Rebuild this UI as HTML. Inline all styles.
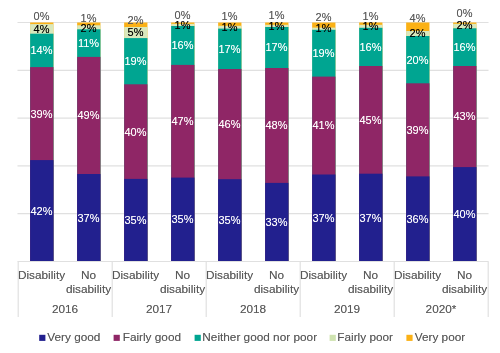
<!DOCTYPE html>
<html><head><meta charset="utf-8"><style>
html,body{margin:0;padding:0;background:#fff;}
body{width:500px;height:353px;position:relative;overflow:hidden;will-change:transform;font-family:"Liberation Sans",sans-serif;}
.ch{position:absolute;left:0;top:0;}
.lab{position:absolute;width:40px;text-align:center;font-size:11.0px;line-height:13.0px;}
.cat{position:absolute;text-shadow:0 0 0.5px rgba(89,89,89,.55);width:70px;text-align:center;font-size:11.8px;line-height:13.8px;color:#595959;}
.sq{position:absolute;top:334.9px;width:5.8px;height:5.8px;}
.lt{position:absolute;text-shadow:0 0 0.5px rgba(89,89,89,.55);font-size:11.8px;line-height:13.8px;color:#595959;white-space:nowrap;}
</style></head><body>
<svg class="ch" width="500" height="353" viewBox="0 0 500 353"><g stroke="#e0e0e0" stroke-width="1.2"><line x1="17.5" x2="488.5" y1="22.50" y2="22.50"/><line x1="17.5" x2="488.5" y1="70.30" y2="70.30"/><line x1="17.5" x2="488.5" y1="118.10" y2="118.10"/><line x1="17.5" x2="488.5" y1="165.90" y2="165.90"/><line x1="17.5" x2="488.5" y1="213.70" y2="213.70"/><line x1="17.5" x2="488.5" y1="261.50" y2="261.50"/><line x1="18.20" x2="18.20" y1="261.50" y2="317"/><line x1="112.20" x2="112.20" y1="261.50" y2="317"/><line x1="206.20" x2="206.20" y1="261.50" y2="317"/><line x1="300.20" x2="300.20" y1="261.50" y2="317"/><line x1="394.20" x2="394.20" y1="261.50" y2="317"/><line x1="488.20" x2="488.20" y1="261.50" y2="317"/></g><rect x="30.15" y="22.50" width="23.3" height="238.50" fill="#fbb116"/><rect x="30.15" y="24.10" width="23.3" height="236.90" fill="#d9e8bc"/><rect x="30.15" y="33.70" width="23.3" height="227.30" fill="#00a591"/><rect x="30.15" y="67.10" width="23.3" height="193.90" fill="#8f2666"/><rect x="30.15" y="160.10" width="23.3" height="100.90" fill="#22208e"/><rect x="77.15" y="22.50" width="23.3" height="238.50" fill="#fbb116"/><rect x="77.15" y="25.30" width="23.3" height="235.70" fill="#d9e8bc"/><rect x="77.15" y="29.30" width="23.3" height="231.70" fill="#00a591"/><rect x="77.15" y="56.90" width="23.3" height="204.10" fill="#8f2666"/><rect x="77.15" y="174.00" width="23.3" height="87.00" fill="#22208e"/><rect x="124.15" y="22.50" width="23.3" height="238.50" fill="#fbb116"/><rect x="124.15" y="27.00" width="23.3" height="234.00" fill="#d9e8bc"/><rect x="124.15" y="38.10" width="23.3" height="222.90" fill="#00a591"/><rect x="124.15" y="84.30" width="23.3" height="176.70" fill="#8f2666"/><rect x="124.15" y="178.90" width="23.3" height="82.10" fill="#22208e"/><rect x="171.15" y="22.50" width="23.3" height="238.50" fill="#fbb116"/><rect x="171.15" y="23.85" width="23.3" height="237.15" fill="#d9e8bc"/><rect x="171.15" y="26.00" width="23.3" height="235.00" fill="#00a591"/><rect x="171.15" y="64.90" width="23.3" height="196.10" fill="#8f2666"/><rect x="171.15" y="177.60" width="23.3" height="83.40" fill="#22208e"/><rect x="218.15" y="22.50" width="23.3" height="238.50" fill="#fbb116"/><rect x="218.15" y="25.80" width="23.3" height="235.20" fill="#d9e8bc"/><rect x="218.15" y="28.60" width="23.3" height="232.40" fill="#00a591"/><rect x="218.15" y="69.00" width="23.3" height="192.00" fill="#8f2666"/><rect x="218.15" y="179.20" width="23.3" height="81.80" fill="#22208e"/><rect x="265.15" y="22.50" width="23.3" height="238.50" fill="#fbb116"/><rect x="265.15" y="24.80" width="23.3" height="236.20" fill="#d9e8bc"/><rect x="265.15" y="27.00" width="23.3" height="234.00" fill="#00a591"/><rect x="265.15" y="68.00" width="23.3" height="193.00" fill="#8f2666"/><rect x="265.15" y="182.90" width="23.3" height="78.10" fill="#22208e"/><rect x="312.15" y="22.50" width="23.3" height="238.50" fill="#fbb116"/><rect x="312.15" y="27.60" width="23.3" height="233.40" fill="#d9e8bc"/><rect x="312.15" y="29.80" width="23.3" height="231.20" fill="#00a591"/><rect x="312.15" y="76.60" width="23.3" height="184.40" fill="#8f2666"/><rect x="312.15" y="174.50" width="23.3" height="86.50" fill="#22208e"/><rect x="359.15" y="22.50" width="23.3" height="238.50" fill="#fbb116"/><rect x="359.15" y="24.80" width="23.3" height="236.20" fill="#d9e8bc"/><rect x="359.15" y="27.80" width="23.3" height="233.20" fill="#00a591"/><rect x="359.15" y="66.00" width="23.3" height="195.00" fill="#8f2666"/><rect x="359.15" y="173.70" width="23.3" height="87.30" fill="#22208e"/><rect x="406.15" y="22.50" width="23.3" height="238.50" fill="#fbb116"/><rect x="406.15" y="31.00" width="23.3" height="230.00" fill="#d9e8bc"/><rect x="406.15" y="36.00" width="23.3" height="225.00" fill="#00a591"/><rect x="406.15" y="83.30" width="23.3" height="177.70" fill="#8f2666"/><rect x="406.15" y="176.40" width="23.3" height="84.60" fill="#22208e"/><rect x="453.15" y="22.50" width="23.3" height="238.50" fill="#fbb116"/><rect x="453.15" y="23.85" width="23.3" height="237.15" fill="#d9e8bc"/><rect x="453.15" y="28.30" width="23.3" height="232.70" fill="#00a591"/><rect x="453.15" y="66.00" width="23.3" height="195.00" fill="#8f2666"/><rect x="453.15" y="167.10" width="23.3" height="93.90" fill="#22208e"/><rect x="39.20" y="334.8" width="6.2" height="6.1" fill="#22208e"/><rect x="113.60" y="334.8" width="6.2" height="6.1" fill="#8f2666"/><rect x="194.60" y="334.8" width="6.2" height="6.1" fill="#00a591"/><rect x="329.60" y="334.8" width="6.2" height="6.1" fill="#cfe3b0"/><rect x="406.40" y="334.8" width="6.2" height="6.1" fill="#fbb116"/></svg>
<div class="lab" style="left:21.50px;top:204.73px;color:#fff;text-shadow:0 0 0.5px rgba(255,255,255,.55)">42%</div>
<div class="lab" style="left:21.50px;top:107.53px;color:#fff;text-shadow:0 0 0.5px rgba(255,255,255,.55)">39%</div>
<div class="lab" style="left:21.50px;top:44.33px;color:#fff;text-shadow:0 0 0.5px rgba(255,255,255,.55)">14%</div>
<div class="lab" style="left:21.50px;top:22.63px;color:#000;text-shadow:0 0 0.5px rgba(0,0,0,.55)">4%</div>
<div class="lab" style="left:21.50px;top:9.83px;color:#595959;text-shadow:0 0 0.5px rgba(89,89,89,.55)">0%</div>
<div class="lab" style="left:68.50px;top:211.68px;color:#fff;text-shadow:0 0 0.5px rgba(255,255,255,.55)">37%</div>
<div class="lab" style="left:68.50px;top:109.38px;color:#fff;text-shadow:0 0 0.5px rgba(255,255,255,.55)">49%</div>
<div class="lab" style="left:68.50px;top:37.03px;color:#fff;text-shadow:0 0 0.5px rgba(255,255,255,.55)">11%</div>
<div class="lab" style="left:68.50px;top:21.53px;color:#000;text-shadow:0 0 0.5px rgba(0,0,0,.55)">2%</div>
<div class="lab" style="left:68.50px;top:11.53px;color:#595959;text-shadow:0 0 0.5px rgba(89,89,89,.55)">1%</div>
<div class="lab" style="left:115.50px;top:214.13px;color:#fff;text-shadow:0 0 0.5px rgba(255,255,255,.55)">35%</div>
<div class="lab" style="left:115.50px;top:125.53px;color:#fff;text-shadow:0 0 0.5px rgba(255,255,255,.55)">40%</div>
<div class="lab" style="left:115.50px;top:55.13px;color:#fff;text-shadow:0 0 0.5px rgba(255,255,255,.55)">19%</div>
<div class="lab" style="left:115.50px;top:26.38px;color:#000;text-shadow:0 0 0.5px rgba(0,0,0,.55)">5%</div>
<div class="lab" style="left:115.50px;top:13.63px;color:#595959;text-shadow:0 0 0.5px rgba(89,89,89,.55)">2%</div>
<div class="lab" style="left:162.50px;top:213.48px;color:#fff;text-shadow:0 0 0.5px rgba(255,255,255,.55)">35%</div>
<div class="lab" style="left:162.50px;top:115.18px;color:#fff;text-shadow:0 0 0.5px rgba(255,255,255,.55)">47%</div>
<div class="lab" style="left:162.50px;top:39.38px;color:#fff;text-shadow:0 0 0.5px rgba(255,255,255,.55)">16%</div>
<div class="lab" style="left:162.50px;top:18.83px;color:#000;text-shadow:0 0 0.5px rgba(0,0,0,.55)">1%</div>
<div class="lab" style="left:162.50px;top:8.83px;color:#595959;text-shadow:0 0 0.5px rgba(89,89,89,.55)">0%</div>
<div class="lab" style="left:209.50px;top:214.28px;color:#fff;text-shadow:0 0 0.5px rgba(255,255,255,.55)">35%</div>
<div class="lab" style="left:209.50px;top:118.03px;color:#fff;text-shadow:0 0 0.5px rgba(255,255,255,.55)">46%</div>
<div class="lab" style="left:209.50px;top:42.73px;color:#fff;text-shadow:0 0 0.5px rgba(255,255,255,.55)">17%</div>
<div class="lab" style="left:209.50px;top:20.93px;color:#000;text-shadow:0 0 0.5px rgba(0,0,0,.55)">1%</div>
<div class="lab" style="left:209.50px;top:10.13px;color:#595959;text-shadow:0 0 0.5px rgba(89,89,89,.55)">1%</div>
<div class="lab" style="left:256.50px;top:216.13px;color:#fff;text-shadow:0 0 0.5px rgba(255,255,255,.55)">33%</div>
<div class="lab" style="left:256.50px;top:119.38px;color:#fff;text-shadow:0 0 0.5px rgba(255,255,255,.55)">48%</div>
<div class="lab" style="left:256.50px;top:41.43px;color:#fff;text-shadow:0 0 0.5px rgba(255,255,255,.55)">17%</div>
<div class="lab" style="left:256.50px;top:19.53px;color:#000;text-shadow:0 0 0.5px rgba(0,0,0,.55)">1%</div>
<div class="lab" style="left:256.50px;top:8.63px;color:#595959;text-shadow:0 0 0.5px rgba(89,89,89,.55)">1%</div>
<div class="lab" style="left:303.50px;top:211.93px;color:#fff;text-shadow:0 0 0.5px rgba(255,255,255,.55)">37%</div>
<div class="lab" style="left:303.50px;top:119.48px;color:#fff;text-shadow:0 0 0.5px rgba(255,255,255,.55)">41%</div>
<div class="lab" style="left:303.50px;top:47.13px;color:#fff;text-shadow:0 0 0.5px rgba(255,255,255,.55)">19%</div>
<div class="lab" style="left:303.50px;top:22.43px;color:#000;text-shadow:0 0 0.5px rgba(0,0,0,.55)">1%</div>
<div class="lab" style="left:303.50px;top:11.03px;color:#595959;text-shadow:0 0 0.5px rgba(89,89,89,.55)">2%</div>
<div class="lab" style="left:350.50px;top:211.53px;color:#fff;text-shadow:0 0 0.5px rgba(255,255,255,.55)">37%</div>
<div class="lab" style="left:350.50px;top:113.78px;color:#fff;text-shadow:0 0 0.5px rgba(255,255,255,.55)">45%</div>
<div class="lab" style="left:350.50px;top:40.83px;color:#fff;text-shadow:0 0 0.5px rgba(255,255,255,.55)">16%</div>
<div class="lab" style="left:350.50px;top:19.98px;color:#000;text-shadow:0 0 0.5px rgba(0,0,0,.55)">1%</div>
<div class="lab" style="left:350.50px;top:9.53px;color:#595959;text-shadow:0 0 0.5px rgba(89,89,89,.55)">1%</div>
<div class="lab" style="left:397.50px;top:212.88px;color:#fff;text-shadow:0 0 0.5px rgba(255,255,255,.55)">36%</div>
<div class="lab" style="left:397.50px;top:123.78px;color:#fff;text-shadow:0 0 0.5px rgba(255,255,255,.55)">39%</div>
<div class="lab" style="left:397.50px;top:53.58px;color:#fff;text-shadow:0 0 0.5px rgba(255,255,255,.55)">20%</div>
<div class="lab" style="left:397.50px;top:26.88px;color:#000;text-shadow:0 0 0.5px rgba(0,0,0,.55)">2%</div>
<div class="lab" style="left:397.50px;top:11.83px;color:#595959;text-shadow:0 0 0.5px rgba(89,89,89,.55)">4%</div>
<div class="lab" style="left:444.50px;top:208.23px;color:#fff;text-shadow:0 0 0.5px rgba(255,255,255,.55)">40%</div>
<div class="lab" style="left:444.50px;top:110.48px;color:#fff;text-shadow:0 0 0.5px rgba(255,255,255,.55)">43%</div>
<div class="lab" style="left:444.50px;top:41.08px;color:#fff;text-shadow:0 0 0.5px rgba(255,255,255,.55)">16%</div>
<div class="lab" style="left:444.50px;top:19.23px;color:#000;text-shadow:0 0 0.5px rgba(0,0,0,.55)">2%</div>
<div class="lab" style="left:444.50px;top:6.83px;color:#595959;text-shadow:0 0 0.5px rgba(89,89,89,.55)">0%</div>
<div class="lt" style="left:47.3px;top:331.06px">Very good</div>
<div class="lt" style="left:122.7px;top:331.06px">Fairly good</div>
<div class="lt" style="left:202.3px;top:331.06px">Neither good nor poor</div>
<div class="lt" style="left:337.3px;top:331.06px">Fairly poor</div>
<div class="lt" style="left:414.7px;top:331.06px">Very poor</div>
<div class="cat" style="left:6.50px;top:268.76px">Disability</div>
<div class="cat" style="left:53.50px;top:268.76px">No<br>disability</div>
<div class="cat" style="left:30.00px;top:303.16px">2016</div>
<div class="cat" style="left:100.50px;top:268.76px">Disability</div>
<div class="cat" style="left:147.50px;top:268.76px">No<br>disability</div>
<div class="cat" style="left:124.00px;top:303.16px">2017</div>
<div class="cat" style="left:194.50px;top:268.76px">Disability</div>
<div class="cat" style="left:241.50px;top:268.76px">No<br>disability</div>
<div class="cat" style="left:218.00px;top:303.16px">2018</div>
<div class="cat" style="left:288.50px;top:268.76px">Disability</div>
<div class="cat" style="left:335.50px;top:268.76px">No<br>disability</div>
<div class="cat" style="left:312.00px;top:303.16px">2019</div>
<div class="cat" style="left:382.50px;top:268.76px">Disability</div>
<div class="cat" style="left:429.50px;top:268.76px">No<br>disability</div>
<div class="cat" style="left:406.00px;top:303.16px">2020*</div>
</body></html>
